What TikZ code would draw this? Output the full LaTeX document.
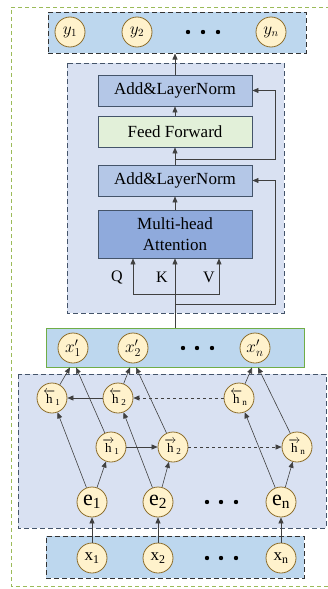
\documentclass[tikz,border=0pt]{standalone}
\usepackage{fontspec}
\setmainfont{Liberation Serif}
\usepackage{amsmath}
\usetikzlibrary{calc,arrows.meta}
\definecolor{cellfill}{HTML}{FFF2CC}
\definecolor{celldraw}{HTML}{8C6D2C}
\definecolor{boxblue}{HTML}{BDD7EE}
\definecolor{boxpale}{HTML}{D9E1F2}
\definecolor{normfill}{HTML}{B4C7E7}
\definecolor{ffgreen}{HTML}{E2F0D9}
\definecolor{attnfill}{HTML}{8FAADC}
\definecolor{edge}{HTML}{44546A}
\definecolor{outergreen}{HTML}{9BBB59}
\definecolor{xpgreen}{HTML}{70AD47}
\tikzset{
  cell/.style={circle,draw=celldraw,fill=cellfill,line width=0.8pt,minimum size=30pt,inner sep=0pt},
  layer/.style={rectangle,draw=edge,line width=0.9pt,minimum width=154pt,minimum height=31pt,font=\fontsize{17}{19}\selectfont},
  arr/.style={draw=black!75,line width=0.6pt,-{Triangle[length=6pt,width=5pt]}},
  dashbox/.style={draw=edge,line width=1pt,dash pattern=on 5pt off 3pt},
}
\begin{document}
\begin{tikzpicture}[x=1pt,y=-1pt]
				\useasboundingbox (0,0) rectangle (328,589);
				% outer frame
				\draw[outergreen,line width=0.9pt,dash pattern=on 4pt off 3pt]
				(330,7) -- (11,7) -- (11,586) -- (330,586);
				
				% output layer
				\node[dashbox,draw=black!80,fill=boxblue,minimum width=258pt,minimum height=41pt] (ybox) at (177,32.5) {};
				\foreach \n/\x/\t in {1/70/y_1,2/137/y_2,n/271/y_n}{
					\node[cell,font=\fontsize{16}{18}\selectfont] (y\n) at (\x,32) {$\t$};}
				\foreach \x in {188,203,218}{
					\fill (\x,32) circle (2.2pt);}
				
				% transformer block
				\fill[boxpale] (67,63) rectangle (284,313);
				\draw[dashbox] (67,63) rectangle (284,313);
				\node[layer,fill=normfill] (ln1) at (175,90.5) {Add\&LayerNorm};
				\node[layer,fill=ffgreen] (ff) at (175,131.5) {Feed Forward};
				\node[layer,fill=normfill] (ln2) at (175,180.5) {Add\&LayerNorm};
				\node[layer,fill=attnfill,minimum height=48pt,align=center,font=\fontsize{17}{21}\selectfont] (mha) at (175,234) {Multi-head\\Attention};
				
				% bi-lstm block
				\fill[boxpale] (18,374) rectangle (326,528);
				\draw[dashbox] (18,374) rectangle (326,528);
				
				% x' layer
				\node[draw=xpgreen,line width=0.8pt,fill=boxblue,minimum width=258pt,minimum height=39pt] (xpbox) at (175,347.5) {};
				\foreach \n/\x in {1/73,2/133,n/255}{
					\node[cell,font=\fontsize{17}{19}\selectfont] (xp\n) at (\x,348) {$x'_{\n}$};}
				\foreach \x in {183,197,212}{
					\fill (\x,348) circle (2.2pt);}
				
				% input layer
				\node[dashbox,draw=black!80,fill=boxblue,minimum width=258pt,minimum height=42pt] (xbox) at (175,557) {};
				\foreach \n/\x in {1/92,2/158,n/281}{
					\node[cell,font=\fontsize{17}{19}\selectfont] (x\n) at (\x,558) {$\mathrm{x}_{\mathrm{\n}}$};
					\node[cell,font=\fontsize{22}{24}\selectfont] (e\n) at (\x,502) {$\mathrm{e}_{\mathrm{\n}}$};}
				\foreach \x in {207,221,236}{
					\fill (\x,558) circle (2.2pt);
					\fill (\x,502) circle (2.2pt);}
				
				\foreach \n/\x in {1/52,2/118,n/239}{
					\node[cell,font=\fontsize{13}{15}\selectfont] (hb\n) at (\x,398) {$\overleftarrow{\mathrm{h}}_{\mathrm{\n}}$};}
				\foreach \n/\x in {1/111,2/173,n/297}{
					\node[cell,font=\fontsize{13}{15}\selectfont] (hf\n) at (\x,447) {$\overrightarrow{\mathrm{h}}_{\mathrm{\n}}$};}
				
				% bi-lstm connections
				\foreach \n in {1,2,n}{
					\draw[arr] (x\n) -- (e\n);
					\draw[arr] (e\n) -- (hf\n);
					\draw[arr] (e\n) -- (hb\n);
					\draw[arr] (hb\n) -- ($(xp\n |- xpbox.south)+(-3,0)$);
					\draw[arr] (hf\n) -- ($(xp\n |- xpbox.south)+(3,0)$);}
				\draw[arr] (hf1) -- (hf2);
				\draw[arr,dashed] (hf2) -- (hfn);
				\draw[arr] (hb2) -- (hb1);
				\draw[arr,dashed] (hbn) -- (hb2);
				
				% transformer connections
				\draw[arr] (ln1.north) -- (ln1.north |- ybox.south);
				\draw[arr] (ff.north) -- (ln1.south);
				\draw[arr] (ln2.north) -- (ff.south);
				\draw[arr] (mha.north) -- (ln2.south);
				\draw[arr] (ln2.north |- 0,159) -- (275,159) |- (ln1.east);
				\draw[arr] (xpbox.north) -- (mha.south);
				\draw[arr] (xpbox.north |- 0,304) -- (275,304) |- (ln2.east);
				\coordinate (q) at (133,294);
				\coordinate (v) at (219,294);
				\draw[arr] (v) -- (q) -- (q |- mha.south);
				\draw[arr] (q) -- (v) -- (v |- mha.south);
				\node[font=\fontsize{16}{18}\selectfont] (ql) at (117,277) {Q};
				\node[font=\fontsize{16}{18}\selectfont] (kl) at (162,277) {K};
				\node[font=\fontsize{16}{18}\selectfont] (vl) at (209,277) {V};
			\end{tikzpicture}
\end{document}
